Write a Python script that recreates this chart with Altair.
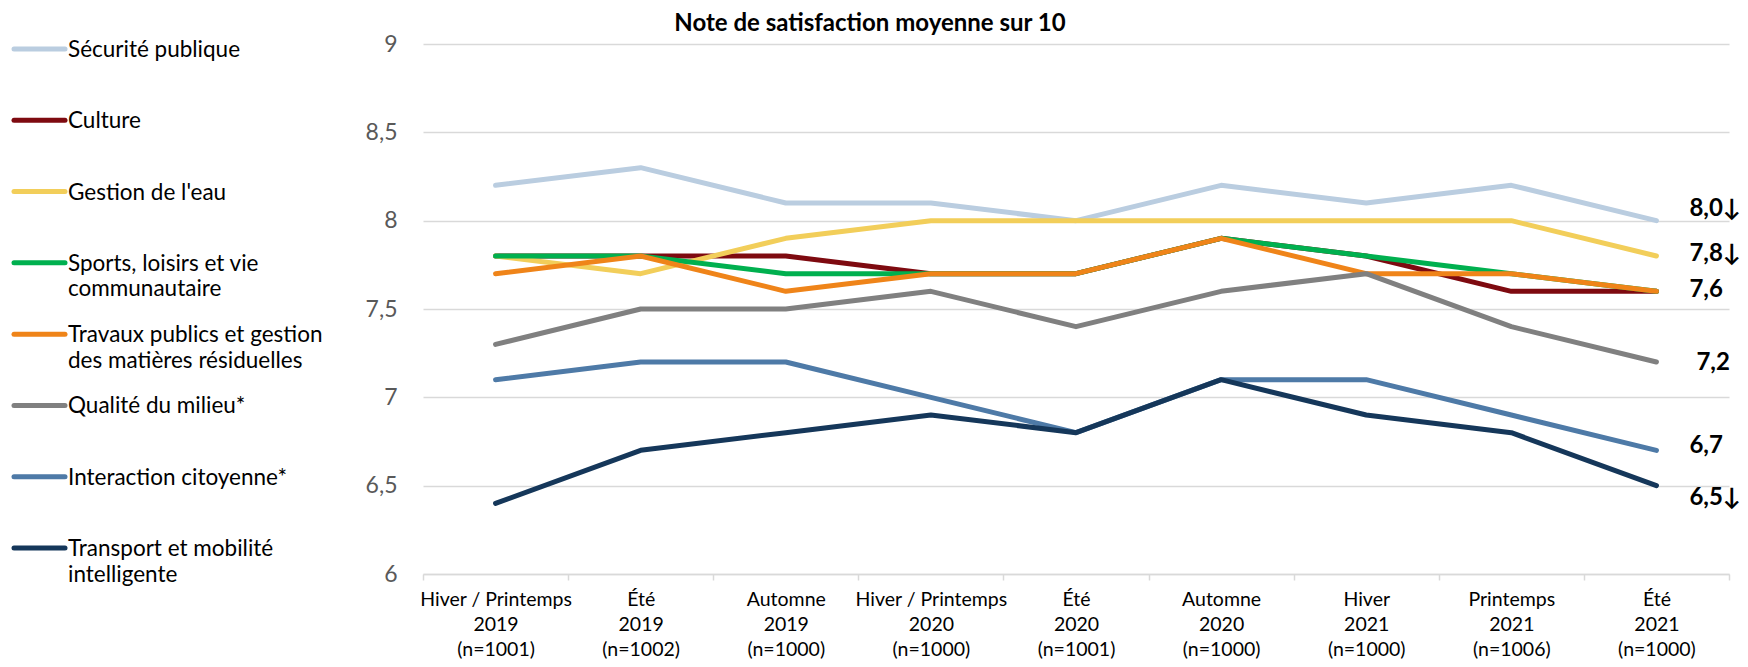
import altair as alt
import pandas as pd

FONT = "Lato"

periodes = [
    "Hiver / Printemps|2019|(n=1001)",
    "Été|2019|(n=1002)",
    "Automne|2019|(n=1000)",
    "Hiver / Printemps|2020|(n=1000)",
    "Été|2020|(n=1001)",
    "Automne|2020|(n=1000)",
    "Hiver|2021|(n=1000)",
    "Printemps|2021|(n=1006)",
    "Été|2021|(n=1000)",
]

series = [
    "Sécurité publique",
    "Culture",
    "Gestion de l'eau",
    "Sports, loisirs et vie communautaire",
    "Travaux publics et gestion des matières résiduelles",
    "Qualité du milieu*",
    "Interaction citoyenne*",
    "Transport et mobilité intelligente",
]
legend_labels = [
    "Sécurité publique",
    "Culture",
    "Gestion de l'eau",
    "Sports, loisirs et vie\ncommunautaire",
    "Travaux publics et gestion\ndes matières résiduelles",
    "Qualité du milieu*",
    "Interaction citoyenne*",
    "Transport et mobilité\nintelligente",
]
couleurs = ["#BACDE0", "#7E0A10", "#F2CE5A", "#00B04F", "#EF8419", "#808080", "#4E7AA7", "#15375A"]

securite = [8.2, 8.3, 8.1, 8.1, 8.0, 8.2, 8.1, 8.2, 8.0]
culture = [7.8, 7.8, 7.8, 7.7, 7.7, 7.9, 7.8, 7.6, 7.6]
eau = [7.8, 7.7, 7.9, 8.0, 8.0, 8.0, 8.0, 8.0, 7.8]
sports = [7.8, 7.8, 7.7, 7.7, 7.7, 7.9, 7.8, 7.7, 7.6]
travaux = [7.7, 7.8, 7.6, 7.7, 7.7, 7.9, 7.7, 7.7, 7.6]
qualite = [7.3, 7.5, 7.5, 7.6, 7.4, 7.6, 7.7, 7.4, 7.2]
interaction = [7.1, 7.2, 7.2, 7.0, 6.8, 7.1, 7.1, 6.9, 6.7]
transport = [6.4, 6.7, 6.8, 6.9, 6.8, 7.1, 6.9, 6.8, 6.5]

valeurs = [securite, culture, eau, sports, travaux, qualite, interaction, transport]

# end-of-line labels
etiquettes = ["8,0↓", "7,8↓", "7,6", "7,2", "6,7", "6,5↓"]
etiquette_series = ["Sécurité publique", "Gestion de l'eau", "Travaux publics et gestion des matières résiduelles",
                    "Qualité du milieu*", "Interaction citoyenne*", "Transport et mobilité intelligente"]
etiquette_dy = [-12, -2, -1, 1, -4, 12]
etiquette_dx = [33, 33, 33, 40, 33, 33]

rows = []
for s, vals in zip(series, valeurs):
    for p, v in zip(periodes, vals):
        rows.append({"serie": s, "periode": p, "valeur": v})
df = pd.DataFrame(rows)

lab_rows = []
for t, s in zip(etiquettes, etiquette_series):
    lab_rows.append({"serie": s, "periode": periodes[-1], "valeur": valeurs[series.index(s)][-1], "texte": t})
lab_df = pd.DataFrame(lab_rows)

leg_df = pd.DataFrame({"serie": series, "label": legend_labels})

color = alt.Color("serie:N", scale=alt.Scale(domain=series, range=couleurs), legend=None)

x_enc = alt.X(
    "periode:N",
    sort=periodes,
    scale=alt.Scale(type="band", paddingInner=0, paddingOuter=0),
    axis=alt.Axis(
        title=None,
        labelExpr="split(datum.label, '|')",
        labelAngle=0,
        labelFont=FONT,
        labelFontSize=19.5,
        labelColor="#000000",
        labelLineHeight=25,
        labelPadding=10,
        labelOverlap=False,
        labelBound=False,
        labelFlush=False,
        tickBand="extent",
        ticks=True,
        tickSize=6,
        tickColor="#D9D9D9",
        tickWidth=1.5,
        domainColor="#D9D9D9",
        domainWidth=1.5,
        grid=False,
    ),
)
y_enc = alt.Y(
    "valeur:Q",
    scale=alt.Scale(domain=[6, 9], nice=False, zero=False),
    axis=alt.Axis(
        title=None,
        values=[6, 6.5, 7, 7.5, 8, 8.5, 9],
        labelExpr="replace(toString(datum.value), '.', ',')",
        labelFont=FONT,
        labelFontSize=23,
        labelColor="#595959",
        labelPadding=26,
        domain=False,
        ticks=False,
        grid=True,
        gridColor="#D9D9D9",
        gridWidth=1.5,
    ),
)

lines = []
for s in series:
    lines.append(
        alt.Chart(df)
        .transform_filter(alt.datum.serie == s)
        .mark_line(strokeWidth=5, strokeCap="round", strokeJoin="round")
        .encode(x=x_enc, y=y_enc, color=color)
    )

labels = []
for s, dy, dx in zip(etiquette_series, etiquette_dy, etiquette_dx):
    labels.append(
        alt.Chart(lab_df)
        .transform_filter(alt.datum.serie == s)
        .mark_text(align="left", baseline="middle", dx=dx, dy=dy, font=FONT, fontSize=24,
                   fontWeight="bold", color="#000000")
        .encode(x=x_enc, y=y_enc, text="texte:N")
    )

main = alt.layer(*lines, *labels)

leg_y = alt.Y("serie:N", sort=series, scale=alt.Scale(type="point", domain=series, range=[5, 504], padding=0), axis=None)
leg_sw = alt.Chart(leg_df).mark_rule(strokeWidth=5, strokeCap="round").encode(
    x=alt.value(-409), x2=alt.value(-358), y=leg_y, color=color
)
leg_txt = alt.Chart(leg_df).mark_text(
    align="left", baseline="top", dy=-10, font=FONT, fontSize=22.5, lineBreak="\n", lineHeight=25.5, color="#000000"
).encode(x=alt.value(-355), y=leg_y, text="label:N")
legend = alt.layer(leg_sw, leg_txt)

chart = (
    alt.layer(main, legend)
    .resolve_scale(y="independent")
    .properties(
        width=1306,
        height=530,
        title=alt.TitleParams(
            "Note de satisfaction moyenne sur 10",
            font=FONT, fontSize=24, fontWeight="bold", color="#000000",
            anchor="middle", frame="group", dx=-206, offset=-3,
        ),
        autosize=alt.AutoSizeParams(type="none"),
        padding={"left": 415, "top": 36, "right": 11, "bottom": 85},
    )
    .configure_view(stroke=None)
)

chart.save("out.html", embed_options={"renderer": "svg", "actions": False})
